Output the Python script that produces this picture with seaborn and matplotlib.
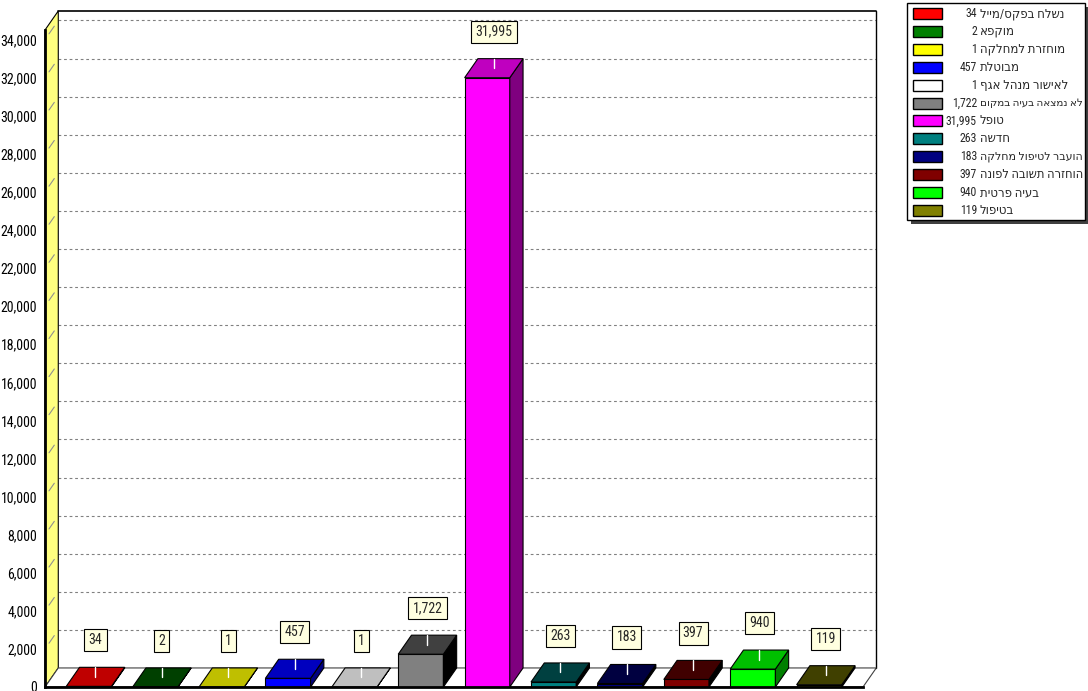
import matplotlib
matplotlib.use("Agg")
import matplotlib.pyplot as plt
from matplotlib.patches import Polygon, Rectangle
from matplotlib import font_manager
import matplotlib.colors as mcolors
import seaborn as sns
import pandas as pd

# ---------------- data ----------------
statuses = ["נשלח בפקס/מייל", "מוקפא", "מוחזרת למחלקה", "מבוטלת", "לאישור מנהל אגף",
            "לא נמצאה בעיה במקום", "טופל", "חדשה", "הועבר לטיפול מחלקה",
            "הוחזרה תשובה לפונה", "בעיה פרטית", "בטיפול"]
counts = [34, 2, 1, 457, 1, 1722, 31995, 263, 183, 397, 940, 119]
colors = ["#FF0000", "#008000", "#FFFF00", "#0000FF", "#FFFFFF", "#808080",
          "#FF00FF", "#008080", "#000080", "#800000", "#00FF00", "#808000"]
yticks = list(range(0, 34001, 2000))

# ---------------- style ----------------
sns.set_style("white")
ttf = font_manager.fontManager.ttflist
names = {f.name for f in ttf}
narrow_names = [n for n in ["Liberation Sans Narrow", "Roboto Condensed", "Open Sans Condensed",
                            "DejaVu Sans Condensed", "Arial Narrow"] if n in names]
has_cond_dejavu = any(f.name == "DejaVu Sans" and str(f.stretch) in ("condensed", "semi-condensed", "600", "700")
                      for f in ttf)
FAM = narrow_names + ["DejaVu Sans"]
STRETCH = "condensed" if (not narrow_names and has_cond_dejavu) else "normal"
plt.rcParams["font.family"] = FAM
plt.rcParams["font.stretch"] = STRETCH
small = not narrow_names and not has_cond_dejavu
TICK_FS = 7.6 if small else 10
LEG_FS = 7.2 if small else 8.5

W, H = 1088, 691
fig = plt.figure(figsize=(W / 100, H / 100), dpi=100)
fig.patch.set_facecolor("white")
ax = fig.add_axes([45 / W, (H - 687) / H, (863 - 45) / W, (687 - 30) / H])

df = pd.DataFrame({"status": statuses, "count": counts})
sns.barplot(data=df, x="status", y="count", hue="status", palette=colors,
            width=0.68, legend=False, ax=ax, saturation=1,
            edgecolor="black", linewidth=0.8, zorder=3)
bars = list(ax.patches)

x0, x1 = -0.66, 11.66
ymax = 34500
dx, dy = 0.2, 1000
ax.set_xlim(x0, x1)
ax.set_ylim(0, ymax)


def shade(c, amt):
    r, g, b, _ = mcolors.to_rgba(c)
    return (max(r - amt, 0), max(g - amt, 0), max(b - amt, 0))


# left wall (yellow)
ax.add_patch(Polygon([(x0, 0), (x0, ymax), (x0 + dx, ymax + dy), (x0 + dx, dy)],
                     closed=True, fc="#FFFF80", ec="black", lw=0.8,
                     clip_on=False, zorder=0.5))
# floor
ax.add_patch(Polygon([(x0, 0), (x1, 0), (x1 + dx, dy), (x0 + dx, dy)],
                     closed=True, fc="white", ec="#404040", lw=0.8,
                     clip_on=False, zorder=1))
# gridlines on back wall + short diagonal marks on left wall
for v in yticks[1:]:
    ax.plot([x0 + dx, x1 + dx], [v + dy, v + dy], color="#808080",
            ls=(0, (2.5, 2.5)), lw=0.8, clip_on=False, zorder=0.4)
    ax.plot([x0 + 0.3 * dx, x0 + 0.7 * dx], [v + 0.3 * dy, v + 0.7 * dy], color="#909090",
            lw=0.8, clip_on=False, zorder=0.6)
# back wall frame
ax.plot([x0 + dx, x1 + dx], [ymax + dy, ymax + dy], color="black", lw=1.2,
        clip_on=False, zorder=0.7)
ax.plot([x1 + dx, x1 + dx], [dy, ymax + dy], color="black", lw=1.0,
        clip_on=False, zorder=0.7)

# 3D faces derived from seaborn bars
for p in bars:
    xl = p.get_x()
    xr = xl + p.get_width()
    v = p.get_height()
    fc = p.get_facecolor()
    ax.add_patch(Polygon([(xr, 0), (xr, v), (xr + dx, v + dy), (xr + dx, dy)],
                         closed=True, fc=shade(fc, 128 / 255), ec="black", lw=0.8,
                         clip_on=False, zorder=3))
    ax.add_patch(Polygon([(xl, v), (xr, v), (xr + dx, v + dy), (xl + dx, v + dy)],
                         closed=True, fc=shade(fc, 64 / 255), ec="black", lw=0.8,
                         clip_on=False, zorder=3))
    xc = (xl + xr) / 2 + dx / 2
    ax.plot([xc, xc], [v + dy / 2, v + dy], color="white", lw=1.0,
            clip_on=False, zorder=4)
    ax.text(xc, v + dy / 2 + 1917, f"{int(round(v)):,}", ha="center", va="center",
            fontsize=TICK_FS, family=FAM, stretch=STRETCH, zorder=5, clip_on=False,
            bbox=dict(boxstyle="square,pad=0.3", fc="#FFFFE0", ec="black", lw=0.8))

# axes
ax.set_yticks(yticks)
ax.set_yticklabels([f"{t:,}" for t in yticks], fontsize=TICK_FS, family=FAM, stretch=STRETCH)
ax.set_xticks([])
ax.set_xlabel("")
ax.set_ylabel("")
ax.tick_params(axis="y", length=4, width=1, direction="out", pad=1.5, colors="black")
for s in ["top", "right"]:
    ax.spines[s].set_visible(False)
for s in ["left", "bottom"]:
    ax.spines[s].set_linewidth(2)
    ax.spines[s].set_color("black")
    ax.spines[s].set_zorder(6)
ax.patch.set_visible(False)

# legend (drawn in figure pixel space)
lax = fig.add_axes([0, 0, 1, 1])
lax.set_xlim(0, W)
lax.set_ylim(H, 0)
lax.axis("off")
lax.add_patch(Rectangle((911, 7), 178, 217, fc="#404040", ec="none"))
lax.add_patch(Rectangle((907, 3), 178, 217, fc="white", ec="black", lw=1))
renderer = fig.canvas.get_renderer()
top, step = 13.5, 17.9
for i, (lab, n, c) in enumerate(zip(statuses, counts, colors)):
    yc = top + i * step
    lax.add_patch(Rectangle((913, yc - 5.5), 29, 11, fc=c, ec="black", lw=1))
    lax.text(977, yc, f"{n:,}", ha="right", va="center", fontsize=LEG_FS,
             family=FAM, stretch=STRETCH)
    t = lax.text(980, yc, lab[::-1], ha="left", va="center", fontsize=LEG_FS,
                 family=FAM, stretch=STRETCH)
    fs = LEG_FS
    while t.get_window_extent(renderer=renderer).x1 > 1084 and fs > 5:
        fs -= 0.2
        t.set_fontsize(fs)

fig.savefig("out.png", dpi=100)
